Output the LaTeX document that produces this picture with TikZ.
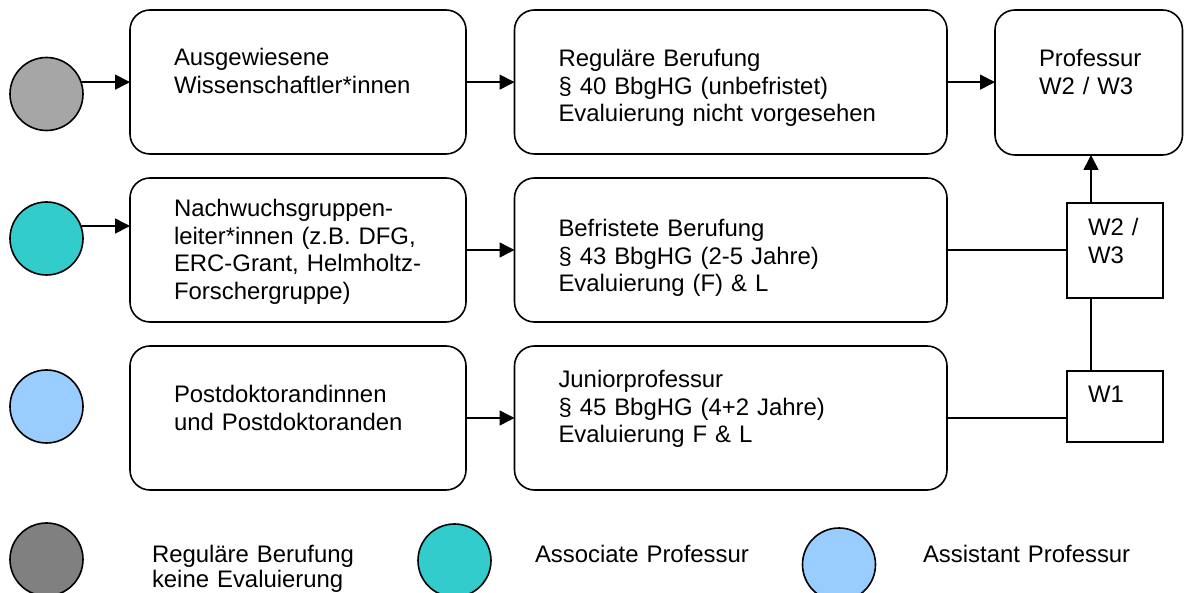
\documentclass[tikz,border=0pt]{standalone}
\usepackage{fontspec}
\setmainfont{Liberation Sans}
\usetikzlibrary{arrows.meta}
\definecolor{dotgrey}{HTML}{A6A6A6}
\definecolor{dotgreydark}{HTML}{808080}
\definecolor{dotteal}{HTML}{33CCCC}
\definecolor{dotblue}{HTML}{99CCFF}
\begin{document}
\begin{tikzpicture}[x=1pt,y=-1pt,line width=1.6pt,
  proc/.style={draw,rounded corners=20pt,inner sep=0pt,outer sep=0pt},
  grade/.style={draw,inner sep=0pt,outer sep=0pt,minimum width=96pt},
  dot/.style={circle,draw,inner sep=0pt,outer sep=0pt,minimum size=73pt},
  txt/.style={anchor=base west,inner sep=0pt,outer sep=0pt,text width=420pt,align=left,
    font=\fontsize{23.9pt}{27.5pt}\selectfont},
  legtxt/.style={txt,font=\fontsize{23.9pt}{25.6pt}\selectfont},
  arr/.style={-{Triangle[length=15pt,width=15pt]}}]
\useasboundingbox (0,0) rectangle (1184,593);

% starting points
\node[dot,fill=dotgrey] (c1) at (46.5,94) {};
\node[dot,fill=dotteal] (c2) at (46.5,238.5) {};
\node[dot,fill=dotblue] (c3) at (46.5,406.5) {};

% career groups
\node[proc,minimum width=336pt,minimum height=144pt] (b11) at (298,82) {};
\node[proc,minimum width=336pt,minimum height=144pt] (b21) at (298,250) {};
\node[proc,minimum width=336pt,minimum height=144pt] (b31) at (298,418) {};

% appointment types
\node[proc,minimum width=432.5pt,minimum height=144pt] (b12) at (730.75,82) {};
\node[proc,minimum width=432.5pt,minimum height=144pt] (b22) at (730.75,250) {};
\node[proc,minimum width=432.5pt,minimum height=144pt] (b32) at (730.75,418) {};

% target position and salary grades
\node[proc,minimum width=187.5pt,minimum height=145pt] (prof) at (1088.75,82.5) {};
\node[grade,minimum height=95pt] (w23) at (1115,250.5) {};
\node[grade,minimum height=71pt] (w1) at (1115,406.5) {};

% texts
\node[txt] (t11) at (174,65.7) {Ausgewiesene\\Wissenschaftler*innen};
\node[txt] (t21) at (174,216.7) {Nachwuchsgruppen-\\leiter*innen (z.B. DFG,\\ERC-Grant, Helmholtz-\\Forschergruppe)};
\node[txt] (t31) at (174,403) {Postdoktorandinnen\\und Postdoktoranden};
\node[txt] (t12) at (558.5,66.7) {Reguläre Berufung\\§ 40 BbgHG (unbefristet)\\Evaluierung nicht vorgesehen};
\node[txt] (t22) at (558.5,236.7) {Befristete Berufung\\§ 43 BbgHG (2-5 Jahre)\\Evaluierung (F) \& L};
\node[txt] (t32) at (558.5,388) {Juniorprofessur\\§ 45 BbgHG (4+2 Jahre)\\Evaluierung F \& L};
\node[txt,text width=130pt] (tp) at (1039,67) {Professur\\W2 / W3};
\node[txt,text width=70pt] (tw23) at (1088,236) {W2 /\\W3};
\node[txt,text width=70pt] (tw1) at (1088,403) {W1};

% connectors
\draw[arr] (c1.19) -- (b11.west |- c1.19);
\draw[arr] (b11.east |- c1.19) -- (b12.west |- c1.19);
\draw[arr] (b12.east |- c1.19) -- (prof.west |- c1.19);
\draw[arr] (c2.20) -- (b21.west |- c2.20);
\draw[arr] (b21.east) -- (b22.west);
\draw (b22.east) -- (w23.west |- b22.east);
\draw[arr] (b31.east) -- (b32.west);
\draw (b32.east) -- (w1.west |- b32.east);
\draw ([xshift=24pt]w1.north west) -- ([xshift=24pt]w23.south west);
\draw[arr] ([xshift=24pt]w23.north west) -- ([xshift=24pt]w23.north west |- prof.south);

% legend
\node[dot,fill=dotgreydark] (l1) at (46.5,559.5) {};
\node[dot,fill=dotteal] (l2) at (454.5,560.5) {};
\node[dot,fill=dotblue] (l3) at (839,564.5) {};
\node[legtxt,text width=240pt] (lt1) at (152,562) {Reguläre Berufung\\keine Evaluierung};
\node[legtxt,text width=240pt] (lt2) at (535,562) {Associate Professur};
\node[legtxt,text width=240pt] (lt3) at (923,562) {Assistant Professur};
\end{tikzpicture}
\end{document}
